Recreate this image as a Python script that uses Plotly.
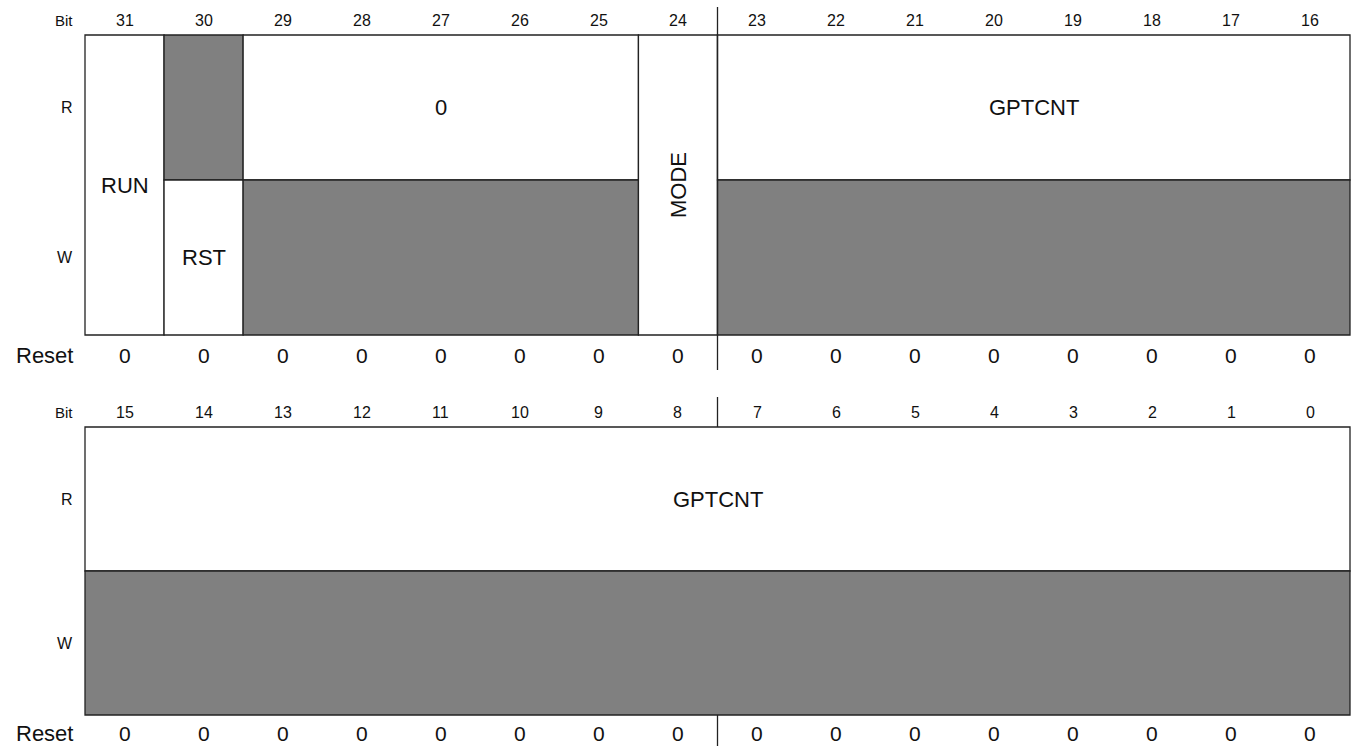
import plotly.graph_objects as go

# ---------------- data ----------------
bits_top = list(range(31, 15, -1))
bits_bottom = list(range(15, -1, -1))
reset_top = [0] * 16
reset_bottom = [0] * 16

# fields: (msb, lsb, access rows, kind, label)
#   rows: "RW" both rows, "R" read row, "W" write row; kind: "field" white, "reserved" gray
fields_top = [
    (31, 31, "RW", "field", "RUN"),
    (30, 30, "R", "reserved", ""),
    (30, 30, "W", "field", "RST"),
    (29, 25, "R", "field", "0"),
    (29, 25, "W", "reserved", ""),
    (24, 24, "RW", "field", "MODE"),
    (23, 16, "R", "field", "GPTCNT"),
    (23, 16, "W", "reserved", ""),
]
fields_bottom = [
    (15, 0, "R", "field", "GPTCNT"),
    (15, 0, "W", "reserved", ""),
]
vertical_labels = ["MODE"]

# ---------------- layout constants ----------------
W, H = 1352, 746
X0, COLW = 85.0, (1350 - 85) / 16.0
FONT = "Liberation Sans, Arial, Helvetica, sans-serif"
LINE = "#222222"
GRAY = "#808080"

# register rows in pixel units (y grows downward)
regs = [
    dict(bits=bits_top, fields=fields_top, reset=reset_top, hi=31,
         bit_y=20, top=35, split=180, bottom=335, reset_y=355,
         seps=[(7, 370)]),
    dict(bits=bits_bottom, fields=fields_bottom, reset=reset_bottom, hi=15,
         bit_y=412, top=427, split=571, bottom=715, reset_y=733,
         seps=[(397, 427), (715, 746)]),
]

fig = go.Figure()
shapes, ann = [], []

def txt(x, y, s, size, xanchor="center", angle=0):
    ann.append(dict(x=x, y=y, xref="x", yref="y", text=s, showarrow=False,
                    xanchor=xanchor, yanchor="middle", textangle=angle,
                    font=dict(family=FONT, size=size, color="#111")))

lab_x = (75 - X0) / COLW
for r in regs:
    hi = r["hi"]
    # row labels
    txt(lab_x, r["bit_y"], "Bit", 15, "right")
    txt(lab_x, (r["top"] + r["split"]) / 2, "R", 16, "right")
    txt(lab_x, (r["split"] + r["bottom"]) / 2, "W", 16, "right")
    txt(lab_x, r["reset_y"], "Reset", 22, "right")
    for i, b in enumerate(r["bits"]):
        txt(i + 0.5, r["bit_y"], str(b), 16)
        txt(i + 0.5, r["reset_y"], str(r["reset"][i]), 21)
    # fields
    for msb, lsb, rows, kind, label in r["fields"]:
        x0, x1 = hi - msb, hi - lsb + 1
        if rows == "RW":
            y0, y1 = r["top"], r["bottom"]
        elif rows == "R":
            y0, y1 = r["top"], r["split"]
        else:
            y0, y1 = r["split"], r["bottom"]
        shapes.append(dict(type="rect", xref="x", yref="y", x0=x0, x1=x1, y0=y0, y1=y1,
                           fillcolor=GRAY if kind == "reserved" else "white",
                           line=dict(color=LINE, width=1.3), layer="below"))
        if label:
            ang = -90 if label in vertical_labels else 0
            txt((x0 + x1) / 2, (y0 + y1) / 2, label, 22, "center", ang)
    # byte separator
    for ya, yb in r["seps"]:
        shapes.append(dict(type="line", xref="x", yref="y", x0=8, x1=8, y0=ya, y1=yb,
                           line=dict(color=LINE, width=1.3)))

fig.add_trace(go.Scatter(x=[0, 16], y=[0, 0], mode="markers",
                         marker=dict(opacity=0), hoverinfo="skip", showlegend=False))

fig.update_layout(
    width=W, height=H, margin=dict(l=0, r=0, t=0, b=0),
    paper_bgcolor="white", plot_bgcolor="white",
    shapes=shapes, annotations=ann, showlegend=False,
    xaxis=dict(range=[-X0 / COLW, (W - X0) / COLW], visible=False, fixedrange=True),
    yaxis=dict(range=[H, 0], visible=False, fixedrange=True),
)
fig.write_html("out.html", config={"displayModeBar": False},
               post_script="document.body.style.margin='0';document.body.style.overflow='hidden';")
